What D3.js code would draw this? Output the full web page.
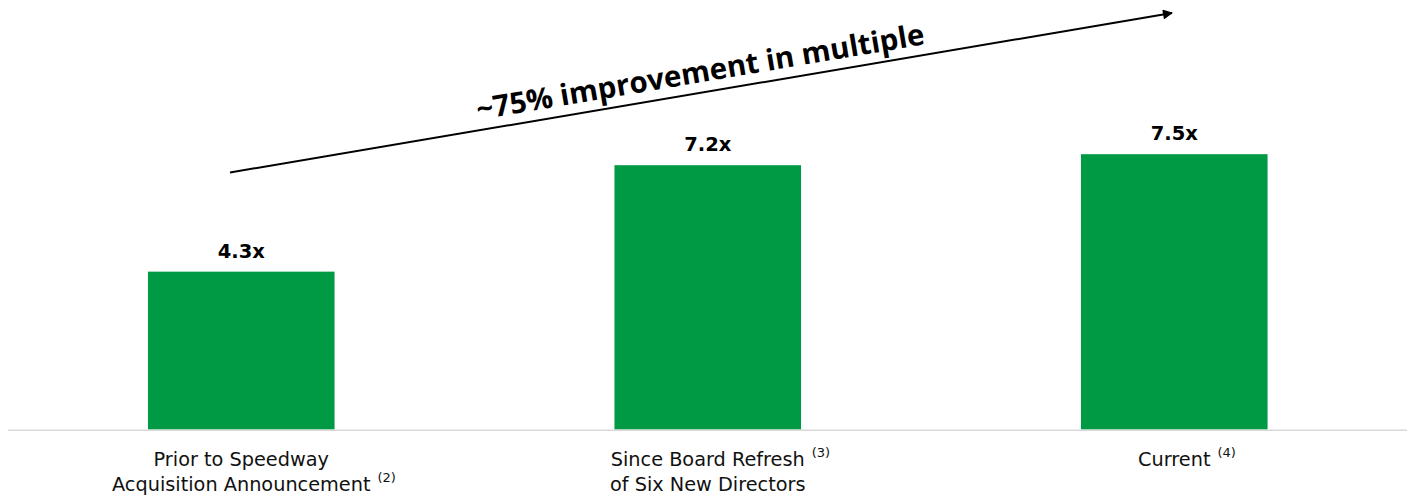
<!DOCTYPE html>
<html>
<head>
<meta charset="utf-8">
<script src="https://cdn.jsdelivr.net/npm/d3@7"></script>
<style>
  body { margin: 0; background: #fff; }
  svg { display: block; }
</style>
</head>
<body>
<div id="chart"></div>
<script>
// Chart data
const categories = ["prior", "refresh", "current"];
const labelLines = [
  ["Prior to Speedway", "Acquisition Announcement"],
  ["Since Board Refresh", "of Six New Directors"],
  ["Current"]
];
const footnotes = ["(2)", "(3)", "(4)"];
const footnoteLine = [1, 0, 0]; // which line carries the footnote marker
const values = [4.3, 7.2, 7.5];
const valueLabels = ["4.3x", "7.2x", "7.5x"];
const arrowText = "~75% improvement in multiple";

const width = 1414, height = 500;
const baseY = 429.5;

const svg = d3
  .select("#chart")
  .append("svg")
  .attr("width", width)
  .attr("height", height);

const x = d3
  .scaleBand()
  .domain(categories)
  .range([8, 1407.5])
  .paddingInner(0.6)
  .paddingOuter(0.3);

const y = d3.scaleLinear().domain([0, 11.7]).range([baseY, 0]);

// Bars
svg
  .selectAll("rect.bar")
  .data(values)
  .enter()
  .append("rect")
  .attr("class", "bar")
  .attr("x", (d, i) => x(categories[i]))
  .attr("width", x.bandwidth())
  .attr("y", (d) => y(d))
  .attr("height", (d) => baseY - y(d))
  .attr("fill", "#009A44");

// Baseline
svg
  .append("line")
  .attr("x1", 8)
  .attr("x2", 1407)
  .attr("y1", baseY + 0.8)
  .attr("y2", baseY + 0.8)
  .attr("stroke", "#d9d9d9")
  .attr("stroke-width", 1.6);

// Value labels above the bars
svg
  .selectAll("text.value")
  .data(values)
  .enter()
  .append("text")
  .attr("class", "value")
  .attr("x", (d, i) => x(categories[i]) + x.bandwidth() / 2)
  .attr("y", (d) => y(d) - 14)
  .attr("text-anchor", "middle")
  .style("font-family", "DejaVu Sans, Verdana, sans-serif")
  .style("font-weight", "bold")
  .style("font-size", "19.5px")
  .attr("fill", "#000")
  .text((d, i) => valueLabels[i]);

// Category labels with footnote markers
categories.forEach((c, i) => {
  const cx = x(c) + x.bandwidth() / 2;
  labelLines[i].forEach((line, j) => {
    const ty = 466 + j * 25;
    const t = svg
      .append("text")
      .attr("x", cx)
      .attr("y", ty)
      .attr("text-anchor", "middle")
      .style("font-family", "DejaVu Sans, Verdana, sans-serif")
      .style("font-size", "19.3px")
      .attr("fill", "#111")
      .text(line);
    if (footnoteLine[i] === j) {
      const w = t.node().getComputedTextLength();
      svg
        .append("text")
        .attr("x", cx + w / 2 + 7)
        .attr("y", ty - 9)
        .style("font-family", "DejaVu Sans, Verdana, sans-serif")
        .style("font-size", "13px")
        .attr("fill", "#111")
        .text(footnotes[i]);
    }
  });
});

// Arrow annotation
const a0 = [230, 172.5], a1 = [1172, 13];
const angle = (Math.atan2(a1[1] - a0[1], a1[0] - a0[0]) * 180) / Math.PI;

svg
  .append("defs")
  .append("marker")
  .attr("id", "head")
  .attr("viewBox", "0 0 10 10")
  .attr("refX", 9)
  .attr("refY", 5)
  .attr("markerWidth", 6)
  .attr("markerHeight", 5)
  .attr("markerUnits", "strokeWidth")
  .attr("orient", "auto")
  .append("path")
  .attr("d", "M0,0 L10,5 L0,10 Z")
  .attr("fill", "#000");

svg
  .append("line")
  .attr("x1", a0[0])
  .attr("y1", a0[1])
  .attr("x2", a1[0])
  .attr("y2", a1[1])
  .attr("stroke", "#000")
  .attr("stroke-width", 2)
  .attr("marker-end", "url(#head)");

svg
  .append("text")
  .attr("transform", `translate(702,82) rotate(${angle})`)
  .attr("text-anchor", "middle")
  .style("font-family", "Open Sans, sans-serif")
  .style("font-weight", "bold")
  .style("font-size", "29.5px")
  .attr("fill", "#000")
  .text(arrowText);
</script>
</body>
</html>
